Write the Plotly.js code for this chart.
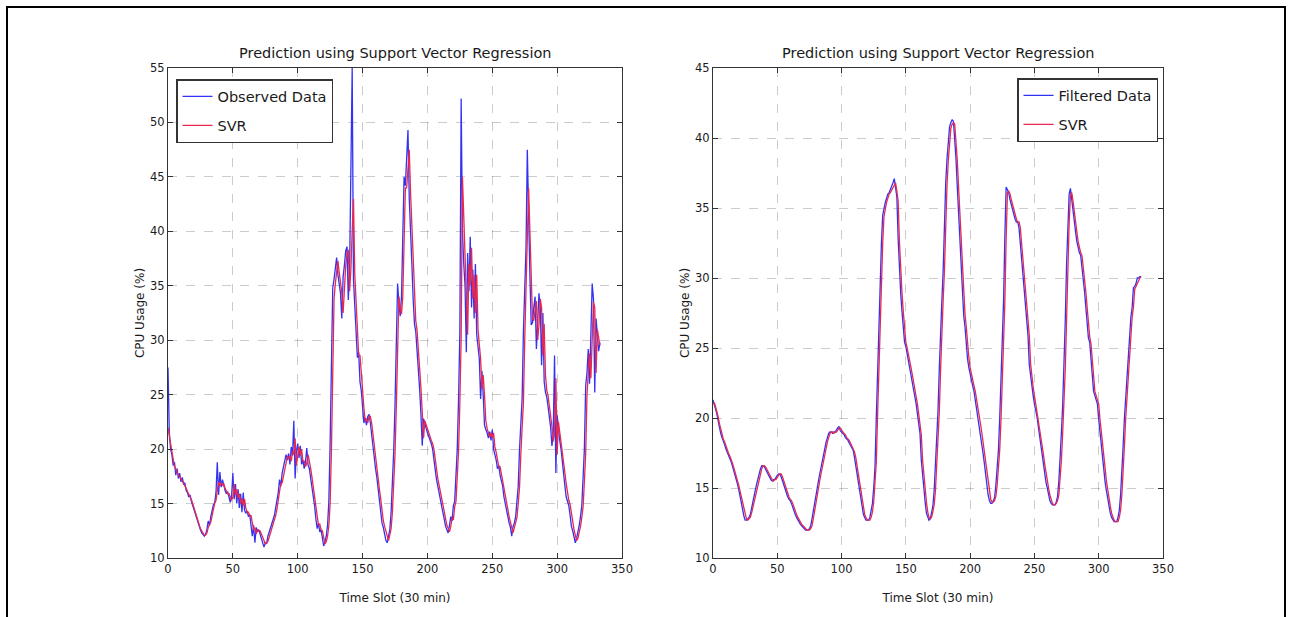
<!DOCTYPE html>
<html>
<head>
<meta charset="utf-8">
<script src="https://cdn.plot.ly/plotly-3.0.1.min.js"></script>
<style>
html,body{margin:0;padding:0;background:#fff;}
#chart{width:1294px;height:617px;}
</style>
</head>
<body>
<div id="chart"></div>
<script>
// ---- data ----
const chartTitle = "Prediction using Support Vector Regression";
const xLabel = "Time Slot (30 min)";
const yLabel = "CPU Usage (%)";
const xTicks = [0, 50, 100, 150, 200, 250, 300, 350];
const yTicksLeft = [10, 15, 20, 25, 30, 35, 40, 45, 50, 55];
const yTicksRight = [10, 15, 20, 25, 30, 35, 40, 45];

const observedData = [
27.5,21.5,20.0,19.5,18.5,18.8,17.6,18.2,17.3,17.8,
17.0,17.4,16.8,16.9,16.2,16.0,15.6,15.8,15.2,14.8,
14.5,14.0,13.6,13.2,12.9,12.6,12.3,12.1,12.0,12.2,
12.6,13.4,13.0,13.8,14.5,14.9,15.1,16.0,18.8,15.8,
17.9,16.5,17.2,16.6,16.2,15.9,16.1,15.6,15.1,15.6,
17.8,15.4,16.8,15.0,16.3,14.6,15.9,14.2,16.0,14.4,
14.1,14.3,13.8,14.0,13.2,12.0,13.0,11.4,12.8,12.4,
12.6,12.2,11.9,11.6,11.0,11.4,11.3,12.0,12.4,12.6,
13.0,13.5,13.9,14.6,15.3,16.0,17.2,16.6,17.8,18.4,
19.2,19.5,19.0,19.6,18.6,20.2,19.4,22.6,17.3,19.8,
20.5,19.2,20.3,18.6,19.0,18.2,18.8,20.1,18.5,18.2,
17.3,16.5,15.6,14.8,13.6,12.7,13.2,12.4,12.6,11.6,
11.1,11.5,12.0,13.0,15.2,20.6,29.0,34.8,35.6,36.8,
37.6,36.0,35.2,34.3,32.0,35.8,36.9,38.2,38.6,33.7,
36.5,45.0,55.0,35.5,33.0,29.6,28.4,28.9,26.2,25.4,
23.6,22.4,22.9,22.2,23.0,23.2,22.4,21.2,20.5,19.2,
18.2,17.4,16.2,15.3,14.1,13.2,12.8,12.3,11.6,11.4,
12.1,12.6,14.2,16.5,19.8,24.0,29.5,35.2,33.5,32.2,
34.0,40.0,45.0,44.2,46.5,49.3,43.0,40.5,37.0,33.8,
31.5,30.8,29.2,27.0,25.5,23.2,20.3,22.8,22.2,21.9,
21.5,21.2,20.8,20.5,20.0,19.0,17.8,17.2,16.6,16.0,
15.1,14.5,14.2,13.5,12.9,12.6,12.3,13.0,13.8,13.4,
14.8,15.2,17.5,20.0,24.6,30.8,52.2,40.0,37.0,35.0,
28.9,38.0,34.5,39.5,33.0,36.5,32.0,37.0,30.5,29.4,
28.3,24.6,27.2,25.0,22.2,21.8,21.5,21.0,21.6,20.8,
21.8,20.0,19.6,19.0,18.2,18.5,17.6,17.0,16.6,15.6,
15.0,14.2,13.6,13.2,12.8,12.0,12.9,13.2,13.8,15.2,
16.6,20.0,22.0,24.6,30.8,35.2,38.5,47.5,40.0,36.0,
31.4,31.6,33.0,34.0,29.2,31.5,34.3,33.0,27.7,32.5,
26.2,25.2,24.8,23.9,23.0,22.0,20.3,21.5,28.6,17.8,
23.1,21.5,20.8,20.0,18.6,17.6,16.6,15.6,15.2,14.8,
13.9,12.9,12.5,12.0,11.4,11.8,12.3,13.0,13.8,14.8,
17.4,20.0,25.8,27.0,29.2,26.0,30.5,35.2,33.8,25.2,
32.0,30.5,29.0,29.8
];

const svrObserved = [
22.0,21.0,20.5,19.8,19.0,18.4,18.2,17.8,17.6,17.5,
17.3,17.0,16.9,16.6,16.4,16.1,15.8,15.6,15.4,15.0,
14.6,14.2,13.8,13.4,13.0,12.7,12.5,12.3,12.1,12.1,
12.3,12.8,13.1,13.3,13.9,14.5,15.0,15.3,16.2,17.0,
16.6,16.9,16.7,16.8,16.4,16.1,15.9,15.9,15.5,15.3,
15.6,16.8,15.8,16.3,15.5,15.9,15.0,15.5,14.8,15.4,
14.6,14.2,14.2,13.9,13.9,13.4,12.6,12.8,12.2,12.6,
12.5,12.5,12.2,11.9,11.6,11.3,11.4,11.5,11.9,12.3,
12.6,13.0,13.4,13.9,14.5,15.2,15.9,16.9,16.9,17.6,
18.2,19.0,19.3,19.1,19.4,18.9,19.8,19.5,21.0,18.5,
19.5,20.2,19.4,20.0,18.9,18.9,18.4,18.7,19.5,18.6,
18.2,17.4,16.6,15.7,14.9,13.9,13.0,13.1,12.6,12.5,
11.8,11.3,11.5,12.0,13.0,15.0,20.0,28.0,33.8,35.2,
36.5,37.3,36.2,35.3,34.4,32.5,35.5,36.8,38.0,38.3,
34.5,36.5,40.0,43.0,36.0,33.5,30.0,28.6,28.6,26.5,
25.5,23.8,22.6,22.8,22.4,23.0,23.0,22.4,21.3,20.5,
19.3,18.3,17.4,16.3,15.4,14.3,13.4,12.9,12.4,11.8,
11.6,12.1,12.7,14.2,16.5,19.5,23.8,29.2,34.0,33.0,
32.4,34.0,39.5,44.0,44.0,46.0,47.5,43.5,40.5,37.2,
34.0,31.8,30.9,29.3,27.2,25.6,23.4,21.0,22.6,22.2,
21.9,21.5,21.2,20.8,20.5,20.0,19.1,18.0,17.3,16.7,
16.1,15.2,14.6,14.2,13.6,13.0,12.7,12.4,12.9,13.7,
13.5,14.7,15.2,17.3,19.8,24.3,30.2,45.0,41.0,37.5,
35.2,30.5,37.0,35.0,38.5,33.8,36.0,32.5,36.0,31.0,
29.6,28.3,25.5,26.8,25.0,22.6,21.9,21.5,21.1,21.5,
21.0,21.5,20.2,19.7,19.1,18.4,18.4,17.7,17.1,16.6,
15.8,15.1,14.4,13.8,13.3,12.9,12.3,12.8,13.2,13.7,
15.0,16.5,19.5,21.8,24.3,30.0,34.8,38.5,44.0,40.0,
36.5,32.0,31.8,32.8,33.6,30.0,31.4,33.8,33.0,28.6,
31.5,26.8,25.4,24.9,24.0,23.1,22.1,20.7,21.4,26.5,
19.5,22.5,21.6,20.9,20.1,18.9,17.8,16.8,15.8,15.3,
14.9,14.1,13.1,12.6,12.1,11.6,11.8,12.3,12.9,13.7,
14.7,17.0,19.6,25.0,26.8,28.8,26.5,30.0,33.5,33.0,
27.0,31.0,30.4,29.5
];

const filteredData = [
21.3,21.0,20.6,20.3,19.8,19.3,18.9,18.6,18.4,18.1,
17.8,17.6,17.4,17.2,16.9,16.6,16.3,16.0,15.6,15.3,
14.9,14.5,14.0,13.5,13.0,12.7,12.7,12.8,12.9,13.1,
13.6,14.1,14.5,14.9,15.3,15.7,16.1,16.4,16.6,16.6,
16.5,16.3,16.1,16.0,15.8,15.6,15.5,15.6,15.6,15.8,
15.9,16.0,16.0,15.8,15.5,15.2,14.9,14.6,14.4,14.2,
14.1,13.9,13.6,13.4,13.1,12.9,12.7,12.6,12.4,12.3,
12.2,12.1,12.0,12.0,12.0,12.1,12.3,12.8,13.4,14.0,
14.5,15.0,15.5,16.0,16.5,17.0,17.5,17.9,18.3,18.6,
18.9,19.0,19.0,18.9,19.0,19.0,19.2,19.3,19.4,19.1,
19.0,18.9,18.8,18.6,18.5,18.4,18.2,18.0,17.9,17.7,
17.2,16.6,16.0,15.3,14.6,14.1,13.6,13.1,12.9,12.7,
12.7,12.7,12.9,13.3,13.9,15.0,16.5,20.0,23.5,26.5,
30.0,32.5,34.5,35.1,35.4,35.7,36.0,36.1,36.3,36.6,
36.8,37.1,36.6,35.8,32.8,30.2,28.9,27.6,26.3,25.4,
25.1,24.6,24.1,23.6,23.1,22.6,22.2,21.7,21.0,20.3,
19.5,18.9,17.0,15.8,14.9,14.0,13.2,12.9,12.7,12.8,
13.2,13.7,14.8,16.5,17.9,20.5,23.5,26.5,28.4,30.5,
34.0,36.8,38.5,40.0,40.8,41.1,41.3,41.2,40.0,38.5,
36.5,34.5,33.3,31.0,29.0,27.3,26.5,25.2,24.2,23.6,
23.1,22.7,22.3,21.9,21.3,20.8,20.2,19.6,19.0,18.3,
17.5,16.8,16.0,15.2,14.5,14.1,13.9,13.9,14.1,14.3,
15.2,16.5,17.7,20.0,22.5,25.0,28.4,33.0,36.5,36.3,
36.1,35.6,35.2,34.9,34.5,34.2,34.0,34.0,33.6,32.5,
31.4,30.2,29.2,28.1,27.0,25.9,23.8,22.9,22.2,21.6,
21.0,20.6,20.1,19.4,18.7,18.0,17.4,16.7,16.0,15.4,
15.0,14.5,14.1,13.9,13.8,13.8,13.8,14.0,14.4,15.5,
17.0,19.0,21.0,23.5,27.0,31.0,34.0,36.0,36.4,35.5,
34.6,34.0,33.3,32.6,32.1,31.8,31.6,30.8,30.0,29.0,
27.9,26.8,25.7,25.4,24.2,22.8,21.9,21.6,21.3,21.0,
19.9,18.9,18.1,17.3,16.4,15.4,14.8,14.2,13.7,13.2,
12.9,12.7,12.6,12.6,12.6,12.9,13.4,14.5,16.0,18.0,
20.0,21.5,22.9,24.5,26.0,27.2,27.9,29.3,29.4,29.6,
30.0,30.0,30.1,30.1
];

const svrFiltered = [
21.0,21.1,20.8,20.5,20.1,19.6,19.2,18.8,18.5,18.3,
18.0,17.7,17.5,17.3,17.1,16.8,16.5,16.2,15.9,15.5,
15.2,14.8,14.4,13.9,13.4,13.0,12.8,12.7,12.8,12.9,
13.2,13.6,14.1,14.5,14.9,15.3,15.7,16.1,16.4,16.6,
16.6,16.5,16.3,16.1,16.0,15.8,15.6,15.5,15.6,15.6,
15.8,15.9,16.0,16.0,15.8,15.5,15.2,14.9,14.6,14.4,
14.2,14.1,13.9,13.6,13.4,13.1,12.9,12.7,12.6,12.4,
12.3,12.2,12.1,12.0,12.0,12.0,12.1,12.3,12.8,13.4,
14.0,14.5,15.0,15.5,16.0,16.5,17.0,17.5,17.9,18.3,
18.6,18.9,19.0,19.0,18.9,19.0,19.0,19.2,19.3,19.3,
19.1,19.0,18.9,18.8,18.6,18.5,18.4,18.2,18.0,17.9,
17.6,17.2,16.6,16.0,15.3,14.6,14.1,13.6,13.1,12.9,
12.7,12.7,12.7,12.9,13.3,14.0,15.1,16.8,20.2,23.5,
26.6,30.0,32.5,34.4,35.1,35.4,35.7,36.0,36.1,36.3,
36.5,36.7,36.8,36.2,35.5,32.6,30.2,28.9,27.6,26.3,
25.4,25.0,24.6,24.1,23.6,23.1,22.6,22.2,21.7,21.0,
20.3,19.5,18.8,17.0,15.8,14.9,14.0,13.3,12.9,12.8,
12.9,13.3,13.8,14.8,16.4,17.9,20.4,23.4,26.4,28.4,
30.5,33.8,36.6,38.4,39.9,40.7,41.0,41.1,41.0,39.8,
38.4,36.5,34.6,33.3,31.1,29.1,27.4,26.5,25.3,24.3,
23.6,23.1,22.7,22.3,21.9,21.4,20.8,20.2,19.6,19.0,
18.3,17.5,16.8,16.0,15.2,14.6,14.2,14.0,14.0,14.1,
14.4,15.2,16.5,17.7,19.9,22.4,24.9,28.3,32.8,36.1,
36.2,36.0,35.6,35.2,34.9,34.5,34.2,34.0,34.0,33.6,
32.5,31.4,30.2,29.2,28.1,27.0,25.9,23.9,22.9,22.2,
21.6,21.0,20.6,20.1,19.4,18.7,18.0,17.4,16.7,16.0,
15.4,15.0,14.5,14.1,13.9,13.8,13.8,13.9,14.1,14.5,
15.6,17.0,19.0,21.0,23.5,27.0,30.9,33.9,35.9,36.1,
35.5,34.6,34.0,33.3,32.6,32.1,31.8,31.6,30.8,30.0,
29.0,27.9,26.8,25.8,25.3,24.2,22.8,21.9,21.6,21.3,
21.0,19.9,18.9,18.1,17.3,16.4,15.5,14.8,14.2,13.7,
13.2,12.9,12.7,12.6,12.6,12.6,12.9,13.4,14.5,16.0,
18.0,20.0,21.5,22.9,24.5,26.0,27.2,27.9,29.2,29.4,
29.6,29.9,30.0,30.1
];

const timeSlots = observedData.map((_, i) => i);

// ---- styling ----
const W = 1294, H = 617;
const px = v => v / W;
const py = v => 1 - v / H;
const BLUE = 'rgb(50,50,245)';
const RED = 'rgb(232,40,80)';
const FONT = 'DejaVu Sans, Liberation Sans, sans-serif';
const TXT = '#1a1a1a';

function xAx(domain, anchor) {
  return {
    domain: domain, anchor: anchor, range: [0, 350], tickvals: xTicks,
    showline: true, mirror: 'ticks', linecolor: '#333', linewidth: 1,
    ticks: 'inside', ticklen: 5, tickcolor: '#333',
    showgrid: true, gridcolor: 'rgba(0,0,0,0.2)', griddash: 'dash', gridwidth: 1,
    zeroline: false, tickfont: {family: FONT, size: 11.5, color: TXT},
    title: {text: xLabel, font: {family: FONT, size: 12, color: TXT}, standoff: 18},
    automargin: false, fixedrange: true
  };
}
function yAx(domain, anchor, range, ticks) {
  return {
    domain: domain, anchor: anchor, range: range, tickvals: ticks,
    showline: true, mirror: 'ticks', linecolor: '#333', linewidth: 1,
    ticks: 'inside', ticklen: 5, tickcolor: '#333',
    showgrid: true, gridcolor: 'rgba(0,0,0,0.2)', griddash: 'dash', gridwidth: 1,
    zeroline: false, tickfont: {family: FONT, size: 11.5, color: TXT},
    title: {text: yLabel, font: {family: FONT, size: 12, color: TXT}, standoff: 2},
    automargin: false, fixedrange: true
  };
}

const traces = [
  {x: timeSlots, y: observedData, type: 'scatter', mode: 'lines', name: 'Observed Data',
   line: {color: BLUE, width: 1.3}, xaxis: 'x', yaxis: 'y', legend: 'legend', legendgroup: 'a'},
  {x: timeSlots, y: svrObserved, type: 'scatter', mode: 'lines', name: 'SVR',
   line: {color: RED, width: 1.3}, xaxis: 'x', yaxis: 'y', legend: 'legend', legendgroup: 'b'},
  {x: timeSlots, y: filteredData, type: 'scatter', mode: 'lines', name: 'Filtered Data',
   line: {color: BLUE, width: 1.3}, xaxis: 'x2', yaxis: 'y2', legend: 'legend2', legendgroup: 'c'},
  {x: timeSlots, y: svrFiltered, type: 'scatter', mode: 'lines', name: 'SVR',
   line: {color: RED, width: 1.3}, xaxis: 'x2', yaxis: 'y2', legend: 'legend2', legendgroup: 'd'}
];

const yDom = [1 - 558 / H, 1 - 68 / H];
const legendBase = {
  bgcolor: '#fff', bordercolor: '#333', borderwidth: 1.5,
  font: {family: FONT, size: 14.5, color: TXT}, tracegroupgap: 7,
  traceorder: 'grouped', yanchor: 'top'
};

const layout = {
  width: W, height: H,
  margin: {l: 0, r: 0, t: 0, b: 0},
  paper_bgcolor: '#fff', plot_bgcolor: '#fff',
  showlegend: true,
  xaxis: xAx([px(168), px(622)], 'y'),
  yaxis: yAx(yDom, 'x', [10, 55], yTicksLeft),
  xaxis2: xAx([px(713), px(1163)], 'y2'),
  yaxis2: yAx(yDom, 'x2', [10, 45], yTicksRight),
  legend: Object.assign({}, legendBase, {x: px(176), xanchor: 'left', y: py(79)}),
  legend2: Object.assign({}, legendBase, {x: px(1158), xanchor: 'right', y: py(78)}),
  annotations: [
    {text: chartTitle, xref: 'paper', yref: 'paper', x: px(395), y: py(63), xanchor: 'center', yanchor: 'bottom',
     showarrow: false, font: {family: FONT, size: 14.5, color: TXT}},
    {text: chartTitle, xref: 'paper', yref: 'paper', x: px(938), y: py(63), xanchor: 'center', yanchor: 'bottom',
     showarrow: false, font: {family: FONT, size: 14.5, color: TXT}}
  ],
  shapes: [
    {type: 'rect', xref: 'paper', yref: 'paper', x0: px(7), x1: px(1285), y0: -0.05, y1: py(7),
     line: {color: '#000', width: 2}, fillcolor: 'rgba(0,0,0,0)', layer: 'below'}
  ]
};

Plotly.newPlot('chart', traces, layout, {displayModeBar: false, staticPlot: true});
</script>
</body>
</html>
